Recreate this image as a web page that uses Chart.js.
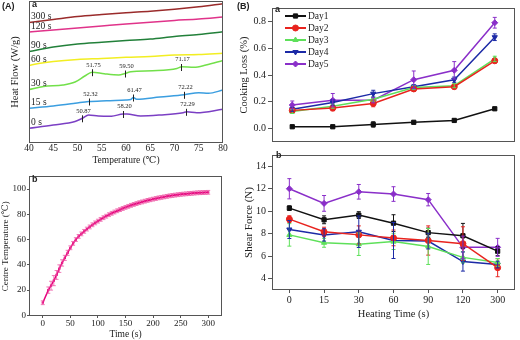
<!DOCTYPE html>
<html>
<head>
<meta charset="utf-8">
<script src="https://cdn.jsdelivr.net/npm/chart.js@4.4.0/dist/chart.umd.min.js"></script>
<style>
  body { margin: 0; background: #fff; width: 520px; height: 340px; position: relative; overflow: hidden; }
  canvas { position: absolute; }
  .tag { position: absolute; font: bold 9px "Liberation Sans", Arial, sans-serif; color: #222; }
</style>
</head>
<body>
<canvas id="dsc" width="230" height="170" style="left:0;top:0"></canvas>
<canvas id="temp" width="230" height="170" style="left:0;top:170px"></canvas>
<canvas id="loss" width="290" height="150" style="left:230px;top:0"></canvas>
<canvas id="force" width="290" height="193" style="left:230px;top:147px"></canvas>
<div class="tag" style="left:2px;top:1px">(A)</div>
<div class="tag" style="left:237px;top:1px">(B)</div>
<div class="tag" style="left:32px;top:-1px">a</div>
<div class="tag" style="left:32px;top:174px">b</div>
<div class="tag" style="left:275px;top:4px">a</div>
<div class="tag" style="left:276px;top:150px">b</div>
<script>
// DSC curves (arbitrary heat flow units, offset per curve)
var dscNames = ['300 s', '120 s', '90 s', '60 s', '30 s', '15 s', '0 s'];
var dsc300T = [40, 45, 50, 55, 60, 65, 70, 75, 80];
var dsc300V = [120.5, 123.5, 126.5, 128.5, 130.3, 131.8, 133.8, 136.3, 139.3];
var dsc120T = [40, 45, 50, 55, 60, 65, 70, 75, 80];
var dsc120V = [111, 113, 115, 117, 119, 120.8, 122.5, 124, 126];
var dsc90T = [40, 45, 50, 55, 60, 65, 70, 75, 80];
var dsc90V = [91.5, 96, 99, 100.8, 102.5, 104, 106.5, 108.5, 111.3];
var dsc60T = [40, 42, 45, 50, 55, 60, 65, 70, 75, 80];
var dsc60V = [77.5, 79.5, 81.5, 83.5, 84.5, 85.7, 86.5, 88, 88.5, 89.7];
var dsc30T = [40, 43, 47, 49.5, 51.5, 53, 55.5, 58.5, 59.8, 61, 65.5, 70.5, 71.5, 74, 76.5, 80];
var dsc30V = [53.5, 56.5, 58, 61, 67, 70.8, 69.2, 68, 69.5, 71.3, 72.3, 74.5, 76.3, 75.8, 78, 82.5];
var dsc15T = [40, 45, 49.5, 52.3, 56, 60, 61, 61.5, 62.2, 67, 72, 75, 77, 80];
var dsc15V = [34.7, 37, 39.7, 41.5, 42.3, 43, 43.5, 45.5, 43.7, 46, 48.2, 50.3, 49.7, 53];
var dsc0T = [40, 45, 49.5, 51, 52.3, 54.3, 57, 59.4, 60.2, 63, 67, 71.8, 72.5, 74.6, 80];
var dsc0V = [14.7, 18, 21.5, 24.7, 28, 27, 26.8, 29, 29, 27, 28, 30.3, 31.2, 30.3, 33.7];
var tempTicks = [40, 45, 50, 55, 60, 65, 70, 75, 80];

// peak annotations on the DSC curves
var peakCurve = ['30 s', '30 s', '30 s', '15 s', '15 s', '15 s', '0 s', '0 s', '0 s'];
var peakTemps = [52.9, 59.7, 71.4, 52.3, 61.5, 71.9, 51.0, 59.4, 72.3];
var peakLevels = [70.8, 69.5, 76.0, 41.5, 45.5, 48.2, 24.7, 29.0, 31.2];
var peakText = ['51.75', '59.50', '71.17', '52.32', '61.47', '72.22', '50.87', '58.20', '72.29'];

// centre temperature vs time
var coreTimes = [0, 10, 15, 20, 25, 30, 35, 40, 45, 50, 55, 60, 65, 70, 75, 80, 85, 90, 95, 100,
  105, 110, 115, 120, 125, 130, 135, 140, 145, 150, 155, 160, 165, 170, 175, 180, 185, 190, 195, 200,
  205, 210, 215, 220, 225, 230, 235, 240, 245, 250, 255, 260, 265, 270, 275, 280, 285, 290, 295, 300];
var coreTemps = [10, 20, 23.5, 27.5, 32, 37, 41.5, 45.5, 49.5, 53.5, 57, 60, 62.5, 64.5, 66.5, 68.3, 70, 71.7, 73.2, 74.6,
  76, 77.3, 78.5, 79.7, 80.8, 81.8, 82.8, 83.7, 84.6, 85.5, 86.3, 87.1, 87.8, 88.5, 89.2, 89.8, 90.4, 91, 91.5, 92,
  92.5, 93, 93.4, 93.8, 94.2, 94.6, 94.9, 95.2, 95.5, 95.8, 96, 96.2, 96.4, 96.6, 96.8, 97, 97.1, 97.2, 97.3, 97.4];
var coreErr = [1.5, 2.5, 3.5, 4, 3.5, 3, 2.5, 2, 2, 1.5, 1.5, 1.5, 1.5, 1.5, 1.5, 1.5, 1.5, 1.5, 1.5, 1.5,
  1.5, 1.5, 1.5, 1.5, 1.5, 1.5, 1.5, 1.5, 1.5, 1.5, 1.5, 1.5, 1.5, 1.5, 1.5, 1.5, 1.5, 1.5, 1.5, 1.5,
  1.5, 1.5, 1.5, 1.5, 1.5, 1.5, 1.5, 1.5, 1.5, 1.5, 1.5, 1.5, 1.5, 1.5, 1.5, 1.5, 1.5, 1.5, 1.5, 1.5];
var timeTicks = [0, 50, 100, 150, 200, 250, 300];
var coreTicks = [0, 20, 40, 60, 80, 100];

// cooking loss and shear force by storage day
var days = ['Day1', 'Day2', 'Day3', 'Day4', 'Day5'];
var lossTimes = ['15', '30', '60', '90', '120', '300'];
var loss1 = [0.014, 0.014, 0.031, 0.047, 0.061, 0.148];
var loss2 = [0.136, 0.153, 0.188, 0.296, 0.313, 0.506];
var loss3 = [0.128, 0.167, 0.219, 0.306, 0.320, 0.520];
var loss4 = [0.144, 0.195, 0.261, 0.313, 0.365, 0.682];
var loss5 = [0.176, 0.212, 0.212, 0.365, 0.435, 0.790];
var lossErr1 = [0.008, 0.008, 0.02, 0.008, 0.01, 0.008];
var lossErr2 = [0.015, 0.02, 0.025, 0.015, 0.015, 0.015];
var lossErr3 = [0.015, 0.015, 0.015, 0.015, 0.015, 0.02];
var lossErr4 = [0.015, 0.02, 0.025, 0.015, 0.02, 0.025];
var lossErr5 = [0.03, 0.05, 0.02, 0.065, 0.065, 0.04];
var lossTicks = [0.0, 0.2, 0.4, 0.6, 0.8];

var heatTimes = ['0', '15', '30', '60', '90', '120', '300'];
var force1 = [10.28, 9.24, 9.66, 8.94, 8.10, 7.82, 6.45];
var force2 = [9.30, 8.18, 7.90, 7.63, 7.40, 7.12, 4.98];
var force3 = [7.90, 7.20, 7.07, 7.30, 6.87, 5.90, 5.45];
var force4 = [8.38, 7.90, 8.18, 7.40, 7.35, 5.53, 5.26];
var force5 = [12.0, 10.7, 11.73, 11.53, 11.03, 6.79, 6.79];
var forceErr1 = [0.2, 0.35, 0.3, 0.75, 0.4, 1.1, 0.4];
var forceErr2 = [0.3, 0.4, 0.8, 0.7, 1.3, 1.5, 0.8];
var forceErr3 = [1.0, 0.4, 1.0, 0.7, 1.6, 0.5, 0.35];
var forceErr4 = [0.8, 0.55, 1.4, 1.6, 0.7, 0.85, 0.3];
var forceErr5 = [0.9, 0.7, 0.65, 0.65, 0.55, 1.0, 0.8];
var forceTicks = [4, 6, 8, 10, 12, 14];

Chart.defaults.font.family = '"Liberation Serif", "DejaVu Serif", serif';
Chart.defaults.color = '#222';
Chart.defaults.animation = false;
Chart.defaults.plugins.legend.display = false;
Chart.defaults.plugins.tooltip.enabled = false;

var dscColors = ['#9a2b2b', '#e0338a', '#22803a', '#f2ee22', '#72e04a', '#3b9ee0', '#7b3fc4'];
var dayColors = ['#111111', '#e8231e', '#5ee05a', '#1c2aa6', '#8a2fc9'];
var dayShapes = ['rect', 'circle', 'triangle', 'triangle', 'rectRot'];
var dayRot = [0, 0, 0, 180, 0];

function pts(xs, ys) {
  return xs.map(function(x, i) { return {x: x, y: ys[i]}; });
}
function fixTicks(list) {
  return function(s) { s.ticks = list.map(function(v) { return {value: v}; }); };
}

var frame = {
  id: 'frame',
  afterDraw: function(c) {
    var a = c.chartArea, ctx = c.ctx;
    ctx.save();
    ctx.strokeStyle = '#555';
    ctx.lineWidth = 1;
    ctx.strokeRect(Math.round(a.left) + 0.5, Math.round(a.top) + 0.5,
      Math.round(a.right - a.left) - 1, Math.round(a.bottom - a.top) - 1);
    ctx.restore();
  }
};

var errBars = {
  id: 'errBars',
  afterDatasetsDraw: function(c) {
    var ctx = c.ctx, ys = c.scales.y;
    c.data.datasets.forEach(function(ds, i) {
      if (!ds.errors) return;
      var meta = c.getDatasetMeta(i);
      ctx.save();
      ctx.strokeStyle = ds.errColor || ds.borderColor;
      ctx.lineWidth = 1;
      meta.data.forEach(function(p, j) {
        var v = ds.data[j];
        v = (typeof v === 'object') ? v.y : v;
        var t = ys.getPixelForValue(v + ds.errors[j]);
        var b = ys.getPixelForValue(v - ds.errors[j]);
        var w = ds.capW || 2;
        ctx.beginPath();
        ctx.moveTo(p.x, t); ctx.lineTo(p.x, b);
        ctx.moveTo(p.x - w, t); ctx.lineTo(p.x + w, t);
        ctx.moveTo(p.x - w, b); ctx.lineTo(p.x + w, b);
        ctx.stroke();
      });
      ctx.restore();
    });
  }
};

var dscLabels = {
  id: 'dscLabels',
  afterDatasetsDraw: function(c) {
    var ctx = c.ctx, a = c.chartArea, xs = c.scales.x, ys = c.scales.y;
    ctx.save();
    ctx.fillStyle = '#222';
    ctx.font = '9.5px "Liberation Serif"';
    ctx.textBaseline = 'bottom';
    c.data.datasets.forEach(function(ds) {
      ctx.fillText(ds.label, a.left + 2, ys.getPixelForValue(ds.data[0].y) - 1);
    });
    ctx.font = '6.5px "Liberation Serif"';
    ctx.textAlign = 'center';
    ctx.strokeStyle = '#222';
    ctx.lineWidth = 1;
    peakTemps.forEach(function(t, i) {
      var x = Math.round(xs.getPixelForValue(t)) + 0.5;
      var y = ys.getPixelForValue(peakLevels[i]);
      ctx.beginPath();
      ctx.moveTo(x, y - 3); ctx.lineTo(x, y + 4);
      ctx.stroke();
      ctx.fillText(peakText[i], x + 1, y - 4);
    });
    ctx.restore();
  }
};

var legendIn = {
  id: 'legendIn',
  afterDraw: function(c) {
    var ctx = c.ctx, a = c.chartArea;
    c.data.datasets.forEach(function(ds, i) {
      var y = a.top + 8 + i * 12, x0 = a.left + 13;
      ctx.save();
      ctx.strokeStyle = ds.borderColor;
      ctx.fillStyle = ds.borderColor;
      ctx.lineWidth = 2;
      ctx.beginPath(); ctx.moveTo(x0, y); ctx.lineTo(x0 + 21, y); ctx.stroke();
      ctx.lineWidth = 1;
      Chart.helpers.drawPoint(ctx, {pointStyle: ds.pointStyle, rotation: ds.pointRotation || 0, radius: 3, borderWidth: 1}, x0 + 10.5, y);
      ctx.fillStyle = '#222';
      ctx.font = '9.5px "Liberation Serif"';
      ctx.textBaseline = 'middle';
      ctx.fillText(ds.label, x0 + 23, y);
      ctx.restore();
    });
  }
};

// (A) a : DSC thermograms
var dscT = [dsc300T, dsc120T, dsc90T, dsc60T, dsc30T, dsc15T, dsc0T];
var dscV = [dsc300V, dsc120V, dsc90V, dsc60V, dsc30V, dsc15V, dsc0V];
new Chart(document.getElementById('dsc'), {
  type: 'line',
  data: {
    datasets: dscNames.map(function(n, i) {
      return {label: n, data: pts(dscT[i], dscV[i]), borderColor: dscColors[i], borderWidth: 1.5,
        pointRadius: 0, tension: 0.4, cubicInterpolationMode: 'monotone'};
    })
  },
  options: {
    responsive: false,
    layout: {padding: {top: 1, right: 7, left: 0, bottom: 0}},
    scales: {
      x: {type: 'linear', min: 40, max: 80, afterBuildTicks: fixTicks(tempTicks),
        afterFit: function(s) { s.height = 27; },
        border: {display: false}, grid: {display: false, drawTicks: false},
        ticks: {padding: 0, font: {size: 9.5}},
        title: {display: true, text: 'Temperature (\u2103)', font: {size: 9.5}, padding: {top: 0, bottom: 4}}},
      y: {min: 0, max: 142, afterFit: function(s) { s.width = 29; },
        border: {display: false}, grid: {display: false, drawTicks: false}, ticks: {display: false},
        title: {display: true, text: 'Heat Flow (W/g)', font: {size: 10.5}, padding: {top: 9, bottom: 0}}}
    }
  },
  plugins: [frame, dscLabels]
});

// (A) b : centre temperature
new Chart(document.getElementById('temp'), {
  type: 'line',
  data: {
    datasets: [{label: 'Centre Temperature', data: pts(coreTimes, coreTemps), errors: coreErr,
      errColor: 'rgba(236,80,160,0.75)', borderColor: '#e6007e', backgroundColor: '#e6007e',
      borderWidth: 1.5, pointStyle: 'rect', pointRadius: 1.6, pointBorderWidth: 0}]
  },
  options: {
    responsive: false,
    layout: {padding: {top: 5, right: 8, left: 0, bottom: 0}},
    scales: {
      x: {type: 'linear', min: -25, max: 325, afterBuildTicks: fixTicks(timeTicks),
        afterFit: function(s) { s.height = 24; },
        border: {display: false},
        grid: {drawOnChartArea: false, tickLength: 2, color: '#555'},
        ticks: {padding: 0, font: {size: 9}},
        title: {display: true, text: 'Time (s)', font: {size: 9.5}, padding: {top: 0, bottom: 0}}},
      y: {min: -0.5, max: 110, afterBuildTicks: fixTicks(coreTicks),
        afterFit: function(s) { s.width = 29; },
        border: {display: false},
        grid: {drawOnChartArea: false, tickLength: 2, color: '#555'},
        ticks: {padding: 1, font: {size: 9}},
        title: {display: true, text: 'Centre Temperature (\u2103)', font: {size: 9}, padding: {top: 0, bottom: 0}}}
    }
  },
  plugins: [frame, errBars]
});

// (B) a : cooking loss
var lossSets = [loss1, loss2, loss3, loss4, loss5];
var lossErrs = [lossErr1, lossErr2, lossErr3, lossErr4, lossErr5];
new Chart(document.getElementById('loss'), {
  type: 'line',
  data: {
    labels: lossTimes,
    datasets: days.map(function(d, i) {
      return {label: d, data: lossSets[i], errors: lossErrs[i], borderColor: dayColors[i],
        backgroundColor: dayColors[i], borderWidth: 1.5, pointStyle: dayShapes[i],
        pointRotation: dayRot[i], pointRadius: 3, pointBorderWidth: 1};
    })
  },
  options: {
    responsive: false,
    layout: {padding: {top: 4, right: 2, left: 0, bottom: 3}},
    scales: {
      x: {display: false, offset: true},
      y: {min: -0.1, max: 0.9, afterBuildTicks: fixTicks(lossTicks),
        afterFit: function(s) { s.width = 42; },
        border: {display: false},
        grid: {drawOnChartArea: false, tickLength: 4, color: '#555'},
        ticks: {padding: 2, font: {size: 10}, callback: function(v) { return v.toFixed(1); }},
        title: {display: true, text: 'Cooking Loss (%)', font: {size: 10.5}, padding: {top: 8, bottom: 0}}}
    }
  },
  plugins: [frame, errBars, legendIn]
});

// (B) b : shear force
var forceSets = [force1, force2, force3, force4, force5];
var forceErrs = [forceErr1, forceErr2, forceErr3, forceErr4, forceErr5];
new Chart(document.getElementById('force'), {
  type: 'line',
  data: {
    labels: heatTimes,
    datasets: days.map(function(d, i) {
      return {label: d, data: forceSets[i], errors: forceErrs[i], borderColor: dayColors[i],
        backgroundColor: dayColors[i], borderWidth: 1.5, pointStyle: dayShapes[i],
        pointRotation: dayRot[i], pointRadius: 3, pointBorderWidth: 1};
    })
  },
  options: {
    responsive: false,
    layout: {padding: {top: 0, right: 2, left: 0, bottom: 0}},
    scales: {
      x: {offset: true, afterFit: function(s) { s.height = 50; },
        border: {display: false},
        grid: {drawOnChartArea: false, offset: false, tickLength: 3, color: '#555'},
        ticks: {padding: 1, font: {size: 10}},
        title: {display: true, text: 'Heating Time (s)', font: {size: 10.5}, padding: {top: 0, bottom: 19}}},
      y: {min: 3, max: 15, afterBuildTicks: fixTicks(forceTicks),
        afterFit: function(s) { s.width = 42; },
        border: {display: false},
        grid: {drawOnChartArea: false, tickLength: 4, color: '#555'},
        ticks: {padding: 2, font: {size: 10}},
        title: {display: true, text: 'Shear Force (N)', font: {size: 11}, padding: {top: 13, bottom: 0}}}
    }
  },
  plugins: [frame, errBars]
});
</script>
</body>
</html>
